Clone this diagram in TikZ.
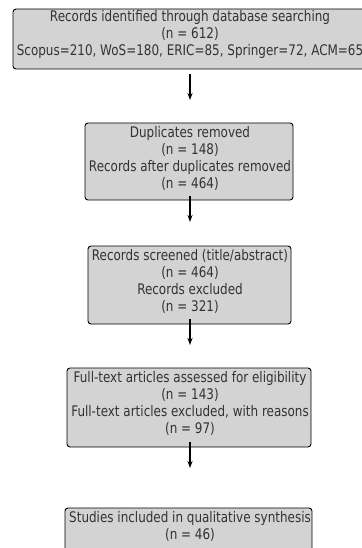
\documentclass[tikz,border=0pt]{standalone}
\usepackage{fontspec}
\setmainfont{DejaVu Sans}
\newfontfamily\narrowfont[FakeStretch=0.82]{DejaVu Sans}
\usetikzlibrary{arrows.meta}
\definecolor{boxfill}{HTML}{D3D3D3}
\definecolor{txt}{HTML}{333333}
\tikzset{
  box/.style={draw=black, fill=boxfill, rounded corners=3pt, line width=0.9pt, inner sep=0pt},
  lbl/.style={align=center, text=txt, inner sep=0pt, font=\narrowfont\fontsize{14.6}{17}\selectfont},
  flow/.style={-{Stealth[length=7pt,width=5pt]}, line width=1.3pt, black}
}
\begin{document}
\begin{tikzpicture}[x=1pt,y=1pt]
\useasboundingbox (0,0) rectangle (361,-548);
\node[box, minimum width=354pt, minimum height=60pt] (b1) at (190,-39) {};
\node[lbl] (t1) at (190,-34) {Records identified through database searching\\(n = 612)\\Scopus=210, WoS=180, ERIC=85, Springer=72, ACM=65};
\node[box, minimum width=208pt, minimum height=77pt] (b2) at (189,-161.5) {};
\node[lbl] (t2) at (190,-158.5) {Duplicates removed\\(n = 148)\\Records after duplicates removed\\(n = 464)};
\node[box, minimum width=203pt, minimum height=78pt] (b3) at (189.5,-285) {};
\node[lbl] (t3) at (190,-281.5) {Records screened (title/abstract)\\(n = 464)\\Records excluded\\(n = 321)};
\node[box, minimum width=244pt, minimum height=79pt] (b4) at (189,-407.5) {};
\node[lbl] (t4) at (190,-403.5) {Full-text articles assessed for eligibility\\(n = 143)\\Full-text articles excluded, with reasons\\(n = 97)};
\node[box, minimum width=247pt, minimum height=48pt] (b5) at (188.5,-532) {};
\node[lbl] (t5) at (190,-526.5) {Studies included in qualitative synthesis\\(n = 46)};
\coordinate (a1s) at (190,-74); \coordinate (a1e) at (190,-100);
\coordinate (a2s) at (190,-196); \coordinate (a2e) at (190,-222);
\coordinate (a3s) at (190,-319); \coordinate (a3e) at (190,-345);
\coordinate (a4s) at (190,-442); \coordinate (a4e) at (190,-468);
\draw[flow] (a1s) -- (a1e);
\draw[flow] (a2s) -- (a2e);
\draw[flow] (a3s) -- (a3e);
\draw[flow] (a4s) -- (a4e);
\end{tikzpicture}
\end{document}
